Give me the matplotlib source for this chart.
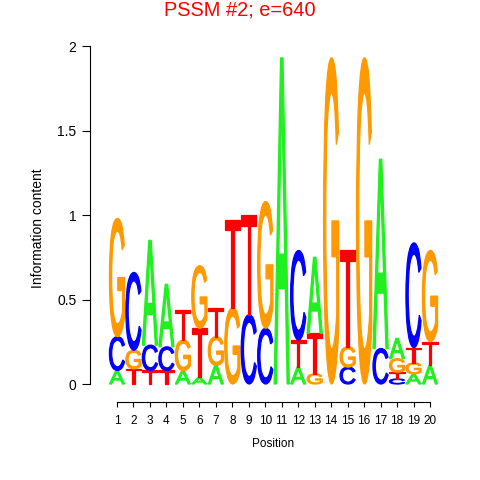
import matplotlib
matplotlib.use("Agg")
import matplotlib.pyplot as plt
from matplotlib.font_manager import FontProperties
from matplotlib.patches import PathPatch
from matplotlib.textpath import TextPath
from matplotlib.transforms import Affine2D

# information content (bits) of each base at positions 1..20
positions = list(range(1, 21))
A_bits = [0.08, 0.00, 0.62, 0.37, 0.08, 0.04, 0.11, 0.00, 0.00, 0.00,
          1.93, 0.10, 0.45, 0.00, 0.00, 0.00, 1.12, 0.12, 0.06, 0.11]
C_bits = [0.20, 0.46, 0.15, 0.14, 0.00, 0.00, 0.00, 0.00, 0.41, 0.33,
          0.00, 0.53, 0.00, 0.00, 0.10, 0.00, 0.21, 0.03, 0.62, 0.00]
G_bits = [0.70, 0.11, 0.00, 0.00, 0.18, 0.37, 0.17, 0.45, 0.00, 0.75,
          0.00, 0.00, 0.06, 1.93, 0.12, 1.93, 0.00, 0.08, 0.065, 0.54]
T_bits = [0.00, 0.09, 0.08, 0.08, 0.18, 0.29, 0.17, 0.52, 0.59, 0.00,
          0.00, 0.16, 0.24, 0.00, 0.57, 0.00, 0.00, 0.04, 0.09, 0.14]
y_ticks = [0, 0.5, 1, 1.5, 2]
y_tick_labels = ["0", "0.5", "1", "1.5", "2"]

COLORS = {"A": "#20F020", "C": "#0000FF", "G": "#FF9900", "T": "#FF0000"}
GLYPH_FONT = FontProperties(family="Liberation Sans")
plt.rcParams["font.family"] = ["Liberation Sans", "DejaVu Sans"]


def letter(ax, ch, x0, y0, w, h):
    tp = TextPath((0, 0), ch, size=1, prop=GLYPH_FONT)
    bb = tp.get_extents()
    tr = (Affine2D().translate(-bb.x0, -bb.y0)
          .scale(w / bb.width, h / bb.height).translate(x0, y0))
    ax.add_patch(PathPatch(tr.transform_path(tp), facecolor=COLORS[ch],
                           edgecolor=COLORS[ch], lw=0.9))


fig = plt.figure(figsize=(4.8, 4.8), dpi=100)
# pixel geometry: axes from x=90..457, y=30..402 (top-down)
ax = fig.add_axes([90 / 480, 78 / 480, 367 / 480, 372 / 480])
ax.set_xlim(-0.639, 21.64)
ax.set_ylim(-0.1065, 2.0947)

w = 0.92
for i, pos in enumerate(positions):
    col = [("A", A_bits[i]), ("C", C_bits[i]), ("G", G_bits[i]), ("T", T_bits[i])]
    col.sort(key=lambda t: t[1])
    y = 0.0
    for ch, h in col:
        if h > 0:
            letter(ax, ch, pos - w / 2, y, w, h)
            y += h

for s in ("top", "right"):
    ax.spines[s].set_visible(False)
ax.spines["left"].set_bounds(0, 2)
ax.spines["bottom"].set_bounds(1, 20)
for s in ("left", "bottom"):
    ax.spines[s].set_linewidth(0.8)

ax.set_xticks(positions)
ax.set_xticklabels([str(p) for p in positions], fontsize=8.5)
ax.set_yticks(y_ticks)
ax.set_yticklabels(y_tick_labels, fontsize=10)
ax.tick_params(axis="x", length=3.6, width=0.8, pad=6)
ax.tick_params(axis="y", length=5.8, width=0.8, pad=4)

fig.text(273.5 / 480, 1 - 444 / 480, "Position", ha="center", va="center",
         fontsize=8.5)
fig.text(38 / 480, 1 - 228 / 480, "Information content", ha="center",
         va="center", rotation=90, fontsize=10)
fig.text(0.5, 1 - 16 / 480, "PSSM #2; e=640", ha="center", va="baseline",
         fontsize=14.4, color="#FF0000")

fig.savefig("out.png", dpi=100)
